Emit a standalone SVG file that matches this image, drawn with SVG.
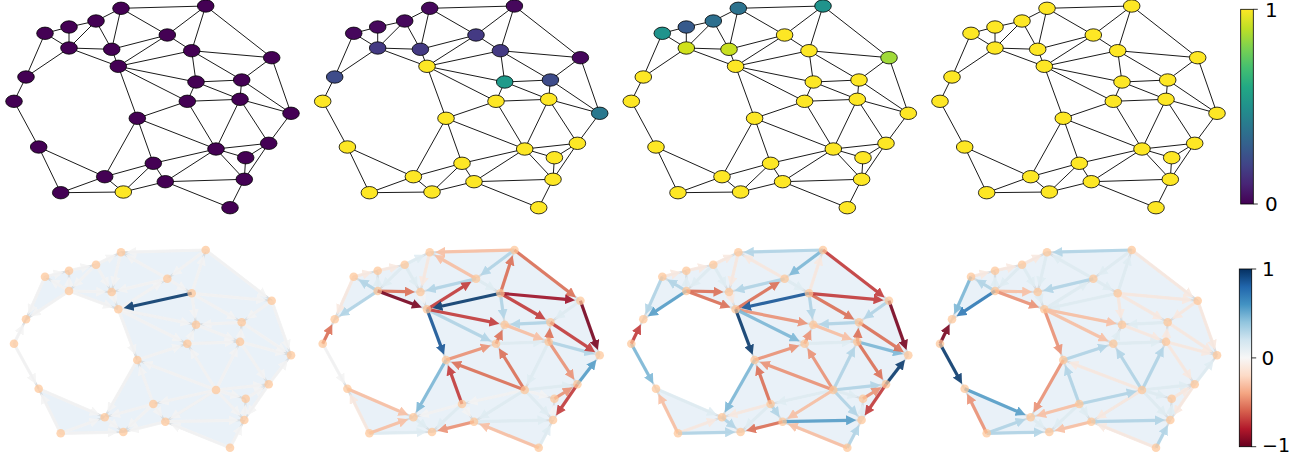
<svg xmlns="http://www.w3.org/2000/svg" xmlns:xlink="http://www.w3.org/1999/xlink" width="1305" height="456" viewBox="0 0 1305 456">
<style>
.te{fill:none;stroke:#000;stroke-width:.9}
.tn ellipse{stroke:#000;stroke-width:.8}
.bf{fill:#e9f1f8}
.be{fill:none;stroke:#d3d8dc;stroke-width:2.2;opacity:.85}
.bn circle{fill:#fdc699;opacity:.72}
.ar use{fill:none;stroke-width:3.2;opacity:.9}
.cb{fill:none;stroke:#000;stroke-width:.8}
text{font-family:"DejaVu Sans","Liberation Sans",sans-serif;font-size:20px;fill:#000}
</style>
<defs>
<linearGradient id="vir" x1="0" y1="1" x2="0" y2="0">
<stop offset="0" stop-color="#440154"/><stop offset=".1" stop-color="#482475"/><stop offset=".2" stop-color="#414487"/><stop offset=".3" stop-color="#355f8d"/><stop offset=".4" stop-color="#2a788e"/><stop offset=".5" stop-color="#21918c"/><stop offset=".6" stop-color="#22a884"/><stop offset=".7" stop-color="#44bf70"/><stop offset=".8" stop-color="#7ad151"/><stop offset=".9" stop-color="#bddf26"/><stop offset="1" stop-color="#fde725"/>
</linearGradient>
<linearGradient id="rdbu" x1="0" y1="1" x2="0" y2="0">
<stop offset="0" stop-color="#67001f"/><stop offset=".1" stop-color="#b2182b"/><stop offset=".2" stop-color="#d6604d"/><stop offset=".3" stop-color="#f4a582"/><stop offset=".4" stop-color="#fddbc7"/><stop offset=".5" stop-color="#f7f7f7"/><stop offset=".6" stop-color="#d1e5f0"/><stop offset=".7" stop-color="#92c5de"/><stop offset=".8" stop-color="#4393c3"/><stop offset=".9" stop-color="#2166ac"/><stop offset="1" stop-color="#053061"/>
</linearGradient>
<marker id="mR5" viewBox="0 -5 10 10" refX="1" refY="0" markerWidth="10" markerHeight="10" markerUnits="userSpaceOnUse" orient="auto"><path d="M0-5L10 0L0 5z" fill="#7a0622"/></marker>
<marker id="mR4" viewBox="0 -5 10 10" refX="1" refY="0" markerWidth="10" markerHeight="10" markerUnits="userSpaceOnUse" orient="auto"><path d="M0-5L10 0L0 5z" fill="#9f1229"/></marker>
<marker id="mR3" viewBox="0 -5 10 10" refX="1" refY="0" markerWidth="10" markerHeight="10" markerUnits="userSpaceOnUse" orient="auto"><path d="M0-5L10 0L0 5z" fill="#c43c3c"/></marker>
<marker id="mR2" viewBox="0 -5 10 10" refX="1" refY="0" markerWidth="10" markerHeight="10" markerUnits="userSpaceOnUse" orient="auto"><path d="M0-5L10 0L0 5z" fill="#dd7158"/></marker>
<marker id="mR1" viewBox="0 -5 10 10" refX="1" refY="0" markerWidth="10" markerHeight="10" markerUnits="userSpaceOnUse" orient="auto"><path d="M0-5L10 0L0 5z" fill="#ec9377"/></marker>
<marker id="mR0" viewBox="0 -5 10 10" refX="1" refY="0" markerWidth="10" markerHeight="10" markerUnits="userSpaceOnUse" orient="auto"><path d="M0-5L10 0L0 5z" fill="#f9c0a4"/></marker>
<marker id="mRz" viewBox="0 -5 10 10" refX="1" refY="0" markerWidth="10" markerHeight="10" markerUnits="userSpaceOnUse" orient="auto"><path d="M0-5L10 0L0 5z" fill="#f9e9e0"/></marker>
<marker id="mZ" viewBox="0 -5 10 10" refX="1" refY="0" markerWidth="10" markerHeight="10" markerUnits="userSpaceOnUse" orient="auto"><path d="M0-5L10 0L0 5z" fill="#f4f4f4"/></marker>
<marker id="mBz" viewBox="0 -5 10 10" refX="1" refY="0" markerWidth="10" markerHeight="10" markerUnits="userSpaceOnUse" orient="auto"><path d="M0-5L10 0L0 5z" fill="#e0edf3"/></marker>
<marker id="mB0" viewBox="0 -5 10 10" refX="1" refY="0" markerWidth="10" markerHeight="10" markerUnits="userSpaceOnUse" orient="auto"><path d="M0-5L10 0L0 5z" fill="#b2d5e7"/></marker>
<marker id="mB1" viewBox="0 -5 10 10" refX="1" refY="0" markerWidth="10" markerHeight="10" markerUnits="userSpaceOnUse" orient="auto"><path d="M0-5L10 0L0 5z" fill="#7eb9d8"/></marker>
<marker id="mB2" viewBox="0 -5 10 10" refX="1" refY="0" markerWidth="10" markerHeight="10" markerUnits="userSpaceOnUse" orient="auto"><path d="M0-5L10 0L0 5z" fill="#579fc9"/></marker>
<marker id="mB3" viewBox="0 -5 10 10" refX="1" refY="0" markerWidth="10" markerHeight="10" markerUnits="userSpaceOnUse" orient="auto"><path d="M0-5L10 0L0 5z" fill="#327cb7"/></marker>
<marker id="mB4" viewBox="0 -5 10 10" refX="1" refY="0" markerWidth="10" markerHeight="10" markerUnits="userSpaceOnUse" orient="auto"><path d="M0-5L10 0L0 5z" fill="#1a5898"/></marker>
<marker id="mB5" viewBox="0 -5 10 10" refX="1" refY="0" markerWidth="10" markerHeight="10" markerUnits="userSpaceOnUse" orient="auto"><path d="M0-5L10 0L0 5z" fill="#0c3d6f"/></marker>
<path id="tE" class="te" d="M121 8.3L205.7 6M121 8.3L96 21M121 8.3L111.7 49.3M121 8.3L167.3 35M205.7 6L167.3 35M205.7 6L191.7 50.7M205.7 6L271.7 57.7M96 21L69 27M96 21L69 48M96 21L111.7 49.3M69 27L45 33.3M69 27L69 48M45 33.3L69 48M45 33.3L26 77M69 48L111.7 49.3M69 48L118.3 66.3M69 48L26 77M111.7 49.3L167.3 35M111.7 49.3L118.3 66.3M167.3 35L191.7 50.7M167.3 35L118.3 66.3M191.7 50.7L271.7 57.7M191.7 50.7L118.3 66.3M191.7 50.7L196 82M191.7 50.7L241.7 80M271.7 57.7L241.7 80M271.7 57.7L291 113.3M118.3 66.3L196 82M118.3 66.3L187.3 101.3M118.3 66.3L137.3 118.3M26 77L14 101.3M196 82L241.7 80M196 82L187.3 101.3M196 82L240 99.3M241.7 80L240 99.3M241.7 80L291 113.3M14 101.3L38.7 147M187.3 101.3L240 99.3M187.3 101.3L137.3 118.3M187.3 101.3L216 149M240 99.3L291 113.3M240 99.3L216 149M240 99.3L268.7 143.3M291 113.3L268.7 143.3M137.3 118.3L216 149M137.3 118.3L153.3 163.3M137.3 118.3L104.7 176.7M38.7 147L104.7 176.7M38.7 147L60.7 192.7M216 149L268.7 143.3M216 149L245.7 157.7M216 149L153.3 163.3M216 149L165.3 181.7M216 149L244.3 179.3M268.7 143.3L245.7 157.7M268.7 143.3L244.3 179.3M245.7 157.7L244.3 179.3M153.3 163.3L104.7 176.7M153.3 163.3L165.3 181.7M153.3 163.3L123.3 192M104.7 176.7L60.7 192.7M104.7 176.7L123.3 192M165.3 181.7L244.3 179.3M165.3 181.7L123.3 192M165.3 181.7L230 207.7M244.3 179.3L230 207.7M60.7 192.7L123.3 192"/>
<g id="bB">
<path class="bf" d="M26 319.3L45 276.7L69 270.7L96 264.7L121 252.3L205.7 250L271.7 300.7L291 355.3L268.7 384.3L244.3 420L230 447.7L165.3 421.7L123.3 432L60.7 433.3L38.7 388.7L104.7 417.3L137.3 360L118.3 309.3L69 291Z"/>
<path class="be" d="M121 252.3L205.7 250M121 252.3L96 264.7M121 252.3L111.7 292M121 252.3L167.3 278.7M205.7 250L167.3 278.7M205.7 250L191.7 293.3M205.7 250L271.7 300.7M96 264.7L69 270.7M96 264.7L69 291M96 264.7L111.7 292M69 270.7L45 276.7M69 270.7L69 291M45 276.7L69 291M45 276.7L26 319.3M69 291L111.7 292M69 291L118.3 309.3M69 291L26 319.3M111.7 292L167.3 278.7M111.7 292L118.3 309.3M167.3 278.7L191.7 293.3M167.3 278.7L118.3 309.3M191.7 293.3L271.7 300.7M191.7 293.3L118.3 309.3M191.7 293.3L196 324.7M191.7 293.3L241.7 322.3M271.7 300.7L241.7 322.3M271.7 300.7L291 355.3M118.3 309.3L196 324.7M118.3 309.3L187.3 343.7M118.3 309.3L137.3 360M26 319.3L14 343.7M196 324.7L241.7 322.3M196 324.7L187.3 343.7M196 324.7L240 341.7M241.7 322.3L240 341.7M241.7 322.3L291 355.3M14 343.7L38.7 388.7M187.3 343.7L240 341.7M187.3 343.7L137.3 360M187.3 343.7L216 390M240 341.7L291 355.3M240 341.7L216 390M240 341.7L268.7 384.3M291 355.3L268.7 384.3M137.3 360L216 390M137.3 360L153.3 404M137.3 360L104.7 417.3M38.7 388.7L104.7 417.3M38.7 388.7L60.7 433.3M216 390L268.7 384.3M216 390L245.7 398.7M216 390L153.3 404M216 390L165.3 421.7M216 390L244.3 420M268.7 384.3L245.7 398.7M268.7 384.3L244.3 420M245.7 398.7L244.3 420M153.3 404L104.7 417.3M153.3 404L165.3 421.7M153.3 404L123.3 432M104.7 417.3L60.7 433.3M104.7 417.3L123.3 432M165.3 421.7L244.3 420M165.3 421.7L123.3 432M165.3 421.7L230 447.7M244.3 420L230 447.7M60.7 433.3L123.3 432"/>
</g>
<path id="e1" d="M205.7 250L135.5 251.9"/>
<path id="e2" d="M96 264.7L108 258.7"/>
<path id="e3" d="M121 252.3L115 277.9"/>
<path id="e4" d="M167.3 278.7L133.6 259.5"/>
<path id="e5" d="M205.7 250L178.9 270"/>
<path id="e6" d="M191.7 293.3L201.2 263.8"/>
<path id="e7" d="M205.7 250L260.2 291.9"/>
<path id="e8" d="M69 270.7L81.9 267.9"/>
<path id="e9" d="M96 264.7L79.4 280.9"/>
<path id="e10" d="M96 264.7L104.5 279.4"/>
<path id="e11" d="M45 276.7L54.9 274.2"/>
<path id="e12" d="M69 291L69 285.2"/>
<path id="e13" d="M69 291L57.5 284.1"/>
<path id="e14" d="M45 276.7L31.9 306.1"/>
<path id="e15" d="M69 291L97.2 291.7"/>
<path id="e16" d="M69 291L104.7 304.3"/>
<path id="e17" d="M69 291L38.1 311.3"/>
<path id="e18" d="M167.3 278.7L125.8 288.6"/>
<path id="e19" d="M111.7 292L113.1 295.8"/>
<path id="e20" d="M167.3 278.7L179.3 285.9"/>
<path id="e21" d="M118.3 309.3L155 286.4"/>
<path id="e22" d="M191.7 293.3L257.3 299.4"/>
<path id="e23" d="M191.7 293.3L132.5 306.2"/>
<path id="e24" d="M191.7 293.3L194 310.3"/>
<path id="e25" d="M191.7 293.3L229.2 315"/>
<path id="e26" d="M271.7 300.7L253.5 313.8"/>
<path id="e27" d="M271.7 300.7L286.2 341.6"/>
<path id="e28" d="M118.3 309.3L181.8 321.9"/>
<path id="e29" d="M118.3 309.3L174.3 337.2"/>
<path id="e30" d="M118.3 309.3L132.2 346.4"/>
<path id="e31" d="M14 343.7L19.6 332.3"/>
<path id="e32" d="M241.7 322.3L210.5 323.9"/>
<path id="e33" d="M187.3 343.7L190 337.9"/>
<path id="e34" d="M196 324.7L226.5 336.5"/>
<path id="e35" d="M240 341.7L240.4 336.8"/>
<path id="e36" d="M241.7 322.3L279 347.2"/>
<path id="e37" d="M14 343.7L31.7 376"/>
<path id="e38" d="M187.3 343.7L225.5 342.3"/>
<path id="e39" d="M137.3 360L173.5 348.2"/>
<path id="e40" d="M216 390L194.9 356"/>
<path id="e41" d="M240 341.7L277 351.6"/>
<path id="e42" d="M216 390L233.6 354.7"/>
<path id="e42f" d="M240 341.7L222.5 377"/>
<path id="e43" d="M240 341.7L260.6 372.3"/>
<path id="e44" d="M268.7 384.3L282.2 366.8"/>
<path id="e45" d="M216 390L150.9 365.2"/>
<path id="e46" d="M153.3 404L142.3 373.6"/>
<path id="e47" d="M137.3 360L111.9 404.7"/>
<path id="e48" d="M38.7 388.7L91.4 411.5"/>
<path id="e49" d="M60.7 433.3L45.1 401.7"/>
<path id="e50" d="M216 390L254.3 385.9"/>
<path id="e51" d="M216 390L231.8 394.6"/>
<path id="e52" d="M216 390L167.5 400.8"/>
<path id="e52r" d="M153.3 404L201.9 393.2"/>
<path id="e53" d="M216 390L177.6 414"/>
<path id="e54" d="M216 390L234.4 409.5"/>
<path id="e55" d="M245.7 398.7L256.4 392"/>
<path id="e56" d="M268.7 384.3L252.5 408"/>
<path id="e57" d="M244.3 420L244.8 413.2"/>
<path id="e58" d="M153.3 404L118.7 413.5"/>
<path id="e59" d="M153.3 404L157.2 409.7"/>
<path id="e60" d="M153.3 404L133.9 422.1"/>
<path id="e61" d="M60.7 433.3L91.1 422.3"/>
<path id="e62" d="M104.7 417.3L111.9 423"/>
<path id="e63" d="M165.3 421.7L229.8 420.3"/>
<path id="e64" d="M165.3 421.7L137.4 428.6"/>
<path id="e65" d="M230 447.7L178.8 427.1"/>
<path id="e66" d="M230 447.7L237.7 432.9"/>
<path id="e67" d="M60.7 433.3L108.8 432.3"/>
</defs>
<rect width="1305" height="456" fill="#fff"/>

<!-- ===== TOP ROW ===== -->
<g id="top1">
<g id="top1-edges"><use href="#tE"/></g>
<g class="tn" fill="#440154">
<g id="t1n0"><ellipse cx="121" cy="8.3" rx="8.3" ry="6.2"/></g>
<g id="t1n1"><ellipse cx="205.7" cy="6" rx="8.3" ry="6.2"/></g>
<g id="t1n2"><ellipse cx="96" cy="21" rx="8.3" ry="6.2"/></g>
<g id="t1n3"><ellipse cx="69" cy="27" rx="8.3" ry="6.2"/></g>
<g id="t1n4"><ellipse cx="45" cy="33.3" rx="8.3" ry="6.2"/></g>
<g id="t1n5"><ellipse cx="69" cy="48" rx="8.3" ry="6.2"/></g>
<g id="t1n6"><ellipse cx="111.7" cy="49.3" rx="8.3" ry="6.2"/></g>
<g id="t1n7"><ellipse cx="167.3" cy="35" rx="8.3" ry="6.2"/></g>
<g id="t1n8"><ellipse cx="191.7" cy="50.7" rx="8.3" ry="6.2"/></g>
<g id="t1n9"><ellipse cx="271.7" cy="57.7" rx="8.3" ry="6.2"/></g>
<g id="t1n10"><ellipse cx="118.3" cy="66.3" rx="8.3" ry="6.2"/></g>
<g id="t1n11"><ellipse cx="26" cy="77" rx="8.3" ry="6.2"/></g>
<g id="t1n12"><ellipse cx="196" cy="82" rx="8.3" ry="6.2"/></g>
<g id="t1n13"><ellipse cx="241.7" cy="80" rx="8.3" ry="6.2"/></g>
<g id="t1n14"><ellipse cx="14" cy="101.3" rx="8.3" ry="6.2"/></g>
<g id="t1n15"><ellipse cx="187.3" cy="101.3" rx="8.3" ry="6.2"/></g>
<g id="t1n16"><ellipse cx="240" cy="99.3" rx="8.3" ry="6.2"/></g>
<g id="t1n17"><ellipse cx="291" cy="113.3" rx="8.3" ry="6.2"/></g>
<g id="t1n18"><ellipse cx="137.3" cy="118.3" rx="8.3" ry="6.2"/></g>
<g id="t1n19"><ellipse cx="38.7" cy="147" rx="8.3" ry="6.2"/></g>
<g id="t1n20"><ellipse cx="216" cy="149" rx="8.3" ry="6.2"/></g>
<g id="t1n21"><ellipse cx="268.7" cy="143.3" rx="8.3" ry="6.2"/></g>
<g id="t1n22"><ellipse cx="245.7" cy="157.7" rx="8.3" ry="6.2"/></g>
<g id="t1n23"><ellipse cx="153.3" cy="163.3" rx="8.3" ry="6.2"/></g>
<g id="t1n24"><ellipse cx="104.7" cy="176.7" rx="8.3" ry="6.2"/></g>
<g id="t1n25"><ellipse cx="165.3" cy="181.7" rx="8.3" ry="6.2"/></g>
<g id="t1n26"><ellipse cx="244.3" cy="179.3" rx="8.3" ry="6.2"/></g>
<g id="t1n27"><ellipse cx="60.7" cy="192.7" rx="8.3" ry="6.2"/></g>
<g id="t1n28"><ellipse cx="123.3" cy="192" rx="8.3" ry="6.2" fill="#fde725"/></g>
<g id="t1n29"><ellipse cx="230" cy="207.7" rx="8.3" ry="6.2"/></g>
</g>
</g>

<g id="top2" transform="translate(308.7,0)">
<g id="top2-edges"><use href="#tE"/></g>
<g class="tn" fill="#fde725">
<g id="t2n0"><ellipse cx="121" cy="8.3" rx="8.3" ry="6.2" fill="#46085c"/></g>
<g id="t2n1"><ellipse cx="205.7" cy="6" rx="8.3" ry="6.2" fill="#46085c"/></g>
<g id="t2n2"><ellipse cx="96" cy="21" rx="8.3" ry="6.2" fill="#46085c"/></g>
<g id="t2n3"><ellipse cx="69" cy="27" rx="8.3" ry="6.2" fill="#46085c"/></g>
<g id="t2n4"><ellipse cx="45" cy="33.3" rx="8.3" ry="6.2" fill="#46085c"/></g>
<g id="t2n5"><ellipse cx="69" cy="48" rx="8.3" ry="6.2" fill="#443a83"/></g>
<g id="t2n6"><ellipse cx="111.7" cy="49.3" rx="8.3" ry="6.2" fill="#443a83"/></g>
<g id="t2n7"><ellipse cx="167.3" cy="35" rx="8.3" ry="6.2" fill="#443a83"/></g>
<g id="t2n8"><ellipse cx="191.7" cy="50.7" rx="8.3" ry="6.2" fill="#443a83"/></g>
<g id="t2n9"><ellipse cx="271.7" cy="57.7" rx="8.3" ry="6.2" fill="#46085c"/></g>
<g id="t2n10"><ellipse cx="118.3" cy="66.3" rx="8.3" ry="6.2"/></g>
<g id="t2n11"><ellipse cx="26" cy="77" rx="8.3" ry="6.2" fill="#3e4c8a"/></g>
<g id="t2n12"><ellipse cx="196" cy="82" rx="8.3" ry="6.2" fill="#1f9a8a"/></g>
<g id="t2n13"><ellipse cx="241.7" cy="80" rx="8.3" ry="6.2" fill="#3e4c8a"/></g>
<g id="t2n14"><ellipse cx="14" cy="101.3" rx="8.3" ry="6.2"/></g>
<g id="t2n15"><ellipse cx="187.3" cy="101.3" rx="8.3" ry="6.2"/></g>
<g id="t2n16"><ellipse cx="240" cy="99.3" rx="8.3" ry="6.2"/></g>
<g id="t2n17"><ellipse cx="291" cy="113.3" rx="8.3" ry="6.2" fill="#2a788e"/></g>
<g id="t2n18"><ellipse cx="137.3" cy="118.3" rx="8.3" ry="6.2"/></g>
<g id="t2n19"><ellipse cx="38.7" cy="147" rx="8.3" ry="6.2"/></g>
<g id="t2n20"><ellipse cx="216" cy="149" rx="8.3" ry="6.2"/></g>
<g id="t2n21"><ellipse cx="268.7" cy="143.3" rx="8.3" ry="6.2"/></g>
<g id="t2n22"><ellipse cx="245.7" cy="157.7" rx="8.3" ry="6.2"/></g>
<g id="t2n23"><ellipse cx="153.3" cy="163.3" rx="8.3" ry="6.2"/></g>
<g id="t2n24"><ellipse cx="104.7" cy="176.7" rx="8.3" ry="6.2"/></g>
<g id="t2n25"><ellipse cx="165.3" cy="181.7" rx="8.3" ry="6.2"/></g>
<g id="t2n26"><ellipse cx="244.3" cy="179.3" rx="8.3" ry="6.2"/></g>
<g id="t2n27"><ellipse cx="60.7" cy="192.7" rx="8.3" ry="6.2"/></g>
<g id="t2n28"><ellipse cx="123.3" cy="192" rx="8.3" ry="6.2"/></g>
<g id="t2n29"><ellipse cx="230" cy="207.7" rx="8.3" ry="6.2"/></g>
</g>
</g>

<g id="top3" transform="translate(617.3,0)">
<g id="top3-edges"><use href="#tE"/></g>
<g class="tn" fill="#fde725">
<g id="t3n0"><ellipse cx="121" cy="8.3" rx="8.3" ry="6.2" fill="#2c728e"/></g>
<g id="t3n1"><ellipse cx="205.7" cy="6" rx="8.3" ry="6.2" fill="#20938c"/></g>
<g id="t3n2"><ellipse cx="96" cy="21" rx="8.3" ry="6.2" fill="#2d6f8e"/></g>
<g id="t3n3"><ellipse cx="69" cy="27" rx="8.3" ry="6.2" fill="#375a8c"/></g>
<g id="t3n4"><ellipse cx="45" cy="33.3" rx="8.3" ry="6.2" fill="#20938c"/></g>
<g id="t3n5"><ellipse cx="69" cy="48" rx="8.3" ry="6.2" fill="#d0e11c"/></g>
<g id="t3n6"><ellipse cx="111.7" cy="49.3" rx="8.3" ry="6.2" fill="#c8e020"/></g>
<g id="t3n7"><ellipse cx="167.3" cy="35" rx="8.3" ry="6.2"/></g>
<g id="t3n8"><ellipse cx="191.7" cy="50.7" rx="8.3" ry="6.2"/></g>
<g id="t3n9"><ellipse cx="271.7" cy="57.7" rx="8.3" ry="6.2" fill="#a0da39"/></g>
<g id="t3n10"><ellipse cx="118.3" cy="66.3" rx="8.3" ry="6.2"/></g>
<g id="t3n11"><ellipse cx="26" cy="77" rx="8.3" ry="6.2"/></g>
<g id="t3n12"><ellipse cx="196" cy="82" rx="8.3" ry="6.2"/></g>
<g id="t3n13"><ellipse cx="241.7" cy="80" rx="8.3" ry="6.2"/></g>
<g id="t3n14"><ellipse cx="14" cy="101.3" rx="8.3" ry="6.2"/></g>
<g id="t3n15"><ellipse cx="187.3" cy="101.3" rx="8.3" ry="6.2"/></g>
<g id="t3n16"><ellipse cx="240" cy="99.3" rx="8.3" ry="6.2"/></g>
<g id="t3n17"><ellipse cx="291" cy="113.3" rx="8.3" ry="6.2"/></g>
<g id="t3n18"><ellipse cx="137.3" cy="118.3" rx="8.3" ry="6.2"/></g>
<g id="t3n19"><ellipse cx="38.7" cy="147" rx="8.3" ry="6.2"/></g>
<g id="t3n20"><ellipse cx="216" cy="149" rx="8.3" ry="6.2"/></g>
<g id="t3n21"><ellipse cx="268.7" cy="143.3" rx="8.3" ry="6.2"/></g>
<g id="t3n22"><ellipse cx="245.7" cy="157.7" rx="8.3" ry="6.2"/></g>
<g id="t3n23"><ellipse cx="153.3" cy="163.3" rx="8.3" ry="6.2"/></g>
<g id="t3n24"><ellipse cx="104.7" cy="176.7" rx="8.3" ry="6.2"/></g>
<g id="t3n25"><ellipse cx="165.3" cy="181.7" rx="8.3" ry="6.2"/></g>
<g id="t3n26"><ellipse cx="244.3" cy="179.3" rx="8.3" ry="6.2"/></g>
<g id="t3n27"><ellipse cx="60.7" cy="192.7" rx="8.3" ry="6.2"/></g>
<g id="t3n28"><ellipse cx="123.3" cy="192" rx="8.3" ry="6.2"/></g>
<g id="t3n29"><ellipse cx="230" cy="207.7" rx="8.3" ry="6.2"/></g>
</g>
</g>

<g id="top4" transform="translate(926,0)">
<g id="top4-edges"><use href="#tE"/></g>
<g class="tn" fill="#fde725">
<g id="t4n0"><ellipse cx="121" cy="8.3" rx="8.3" ry="6.2"/></g>
<g id="t4n1"><ellipse cx="205.7" cy="6" rx="8.3" ry="6.2"/></g>
<g id="t4n2"><ellipse cx="96" cy="21" rx="8.3" ry="6.2"/></g>
<g id="t4n3"><ellipse cx="69" cy="27" rx="8.3" ry="6.2"/></g>
<g id="t4n4"><ellipse cx="45" cy="33.3" rx="8.3" ry="6.2"/></g>
<g id="t4n5"><ellipse cx="69" cy="48" rx="8.3" ry="6.2"/></g>
<g id="t4n6"><ellipse cx="111.7" cy="49.3" rx="8.3" ry="6.2"/></g>
<g id="t4n7"><ellipse cx="167.3" cy="35" rx="8.3" ry="6.2"/></g>
<g id="t4n8"><ellipse cx="191.7" cy="50.7" rx="8.3" ry="6.2"/></g>
<g id="t4n9"><ellipse cx="271.7" cy="57.7" rx="8.3" ry="6.2"/></g>
<g id="t4n10"><ellipse cx="118.3" cy="66.3" rx="8.3" ry="6.2"/></g>
<g id="t4n11"><ellipse cx="26" cy="77" rx="8.3" ry="6.2"/></g>
<g id="t4n12"><ellipse cx="196" cy="82" rx="8.3" ry="6.2"/></g>
<g id="t4n13"><ellipse cx="241.7" cy="80" rx="8.3" ry="6.2"/></g>
<g id="t4n14"><ellipse cx="14" cy="101.3" rx="8.3" ry="6.2"/></g>
<g id="t4n15"><ellipse cx="187.3" cy="101.3" rx="8.3" ry="6.2"/></g>
<g id="t4n16"><ellipse cx="240" cy="99.3" rx="8.3" ry="6.2"/></g>
<g id="t4n17"><ellipse cx="291" cy="113.3" rx="8.3" ry="6.2"/></g>
<g id="t4n18"><ellipse cx="137.3" cy="118.3" rx="8.3" ry="6.2"/></g>
<g id="t4n19"><ellipse cx="38.7" cy="147" rx="8.3" ry="6.2"/></g>
<g id="t4n20"><ellipse cx="216" cy="149" rx="8.3" ry="6.2"/></g>
<g id="t4n21"><ellipse cx="268.7" cy="143.3" rx="8.3" ry="6.2"/></g>
<g id="t4n22"><ellipse cx="245.7" cy="157.7" rx="8.3" ry="6.2"/></g>
<g id="t4n23"><ellipse cx="153.3" cy="163.3" rx="8.3" ry="6.2"/></g>
<g id="t4n24"><ellipse cx="104.7" cy="176.7" rx="8.3" ry="6.2"/></g>
<g id="t4n25"><ellipse cx="165.3" cy="181.7" rx="8.3" ry="6.2"/></g>
<g id="t4n26"><ellipse cx="244.3" cy="179.3" rx="8.3" ry="6.2"/></g>
<g id="t4n27"><ellipse cx="60.7" cy="192.7" rx="8.3" ry="6.2"/></g>
<g id="t4n28"><ellipse cx="123.3" cy="192" rx="8.3" ry="6.2"/></g>
<g id="t4n29"><ellipse cx="230" cy="207.7" rx="8.3" ry="6.2"/></g>
</g>
</g>

<!-- ===== BOTTOM ROW ===== -->
<g id="bot1">
<use href="#bB"/>
<g id="bot1-arrows" class="ar">
<g stroke="#f4f4f4" marker-end="url(#mZ)"><use href="#e1"/><use href="#e2"/><use href="#e3"/><use href="#e4"/><use href="#e5"/><use href="#e6"/><use href="#e7"/><use href="#e8"/><use href="#e9"/><use href="#e10"/><use href="#e11"/><use href="#e12"/><use href="#e13"/><use href="#e14"/><use href="#e15"/><use href="#e16"/><use href="#e17"/><use href="#e18"/><use href="#e19"/><use href="#e20"/><use href="#e21"/><use href="#e22"/><use href="#e24"/><use href="#e25"/><use href="#e26"/><use href="#e27"/><use href="#e28"/><use href="#e29"/><use href="#e30"/><use href="#e31"/><use href="#e32"/><use href="#e33"/><use href="#e34"/><use href="#e35"/><use href="#e36"/><use href="#e37"/><use href="#e38"/><use href="#e39"/><use href="#e40"/><use href="#e41"/><use href="#e42"/><use href="#e43"/><use href="#e44"/><use href="#e45"/><use href="#e46"/><use href="#e47"/><use href="#e48"/><use href="#e49"/><use href="#e50"/><use href="#e51"/><use href="#e52"/><use href="#e53"/><use href="#e54"/><use href="#e55"/><use href="#e56"/><use href="#e57"/><use href="#e58"/><use href="#e59"/><use href="#e60"/><use href="#e61"/><use href="#e62"/><use href="#e63"/><use href="#e64"/><use href="#e65"/><use href="#e66"/><use href="#e67"/></g>
<g stroke="#0c3d6f" marker-end="url(#mB5)"><use href="#e23"/></g>
</g>
<g id="bot1-nodes" class="bn">
<g id="b1n0"><circle cx="121" cy="252.3" r="4.3"/></g><g id="b1n1"><circle cx="205.7" cy="250" r="4.3"/></g><g id="b1n2"><circle cx="96" cy="264.7" r="4.3"/></g><g id="b1n3"><circle cx="69" cy="270.7" r="4.3"/></g><g id="b1n4"><circle cx="45" cy="276.7" r="4.3"/></g><g id="b1n5"><circle cx="69" cy="291" r="4.3"/></g><g id="b1n6"><circle cx="111.7" cy="292" r="4.3"/></g><g id="b1n7"><circle cx="167.3" cy="278.7" r="4.3"/></g><g id="b1n8"><circle cx="191.7" cy="293.3" r="4.3"/></g><g id="b1n9"><circle cx="271.7" cy="300.7" r="4.3"/></g><g id="b1n10"><circle cx="118.3" cy="309.3" r="4.3"/></g><g id="b1n11"><circle cx="26" cy="319.3" r="4.3"/></g><g id="b1n12"><circle cx="196" cy="324.7" r="4.3"/></g><g id="b1n13"><circle cx="241.7" cy="322.3" r="4.3"/></g><g id="b1n14"><circle cx="14" cy="343.7" r="4.3"/></g><g id="b1n15"><circle cx="187.3" cy="343.7" r="4.3"/></g><g id="b1n16"><circle cx="240" cy="341.7" r="4.3"/></g><g id="b1n17"><circle cx="291" cy="355.3" r="4.3"/></g><g id="b1n18"><circle cx="137.3" cy="360" r="4.3"/></g><g id="b1n19"><circle cx="38.7" cy="388.7" r="4.3"/></g><g id="b1n20"><circle cx="216" cy="390" r="4.3"/></g><g id="b1n21"><circle cx="268.7" cy="384.3" r="4.3"/></g><g id="b1n22"><circle cx="245.7" cy="398.7" r="4.3"/></g><g id="b1n23"><circle cx="153.3" cy="404" r="4.3"/></g><g id="b1n24"><circle cx="104.7" cy="417.3" r="4.3"/></g><g id="b1n25"><circle cx="165.3" cy="421.7" r="4.3"/></g><g id="b1n26"><circle cx="244.3" cy="420" r="4.3"/></g><g id="b1n27"><circle cx="60.7" cy="433.3" r="4.3"/></g><g id="b1n28"><circle cx="123.3" cy="432" r="4.3"/></g><g id="b1n29"><circle cx="230" cy="447.7" r="4.3"/></g>
</g>
</g>

<g id="bot2" transform="translate(308.7,0)">
<use href="#bB"/>
<g id="bot2-arrows" class="ar">
<g stroke="#f4f4f4" marker-end="url(#mZ)"><use href="#e19"/><use href="#e37"/><use href="#e51"/><use href="#e52"/><use href="#e57"/><use href="#e58"/><use href="#e59"/></g>
<g stroke="#f9e9e0" marker-end="url(#mRz)"><use href="#e3"/><use href="#e8"/><use href="#e11"/><use href="#e14"/><use href="#e49"/></g>
<g stroke="#e0edf3" marker-end="url(#mBz)"><use href="#e2"/><use href="#e9"/><use href="#e10"/><use href="#e12"/><use href="#e20"/><use href="#e26"/><use href="#e38"/><use href="#e42f"/><use href="#e50"/><use href="#e53"/><use href="#e54"/><use href="#e60"/><use href="#e62"/><use href="#e63"/><use href="#e66"/><use href="#e67"/></g>
<g stroke="#f9c0a4" marker-end="url(#mR0)"><use href="#e1"/><use href="#e4"/><use href="#e34"/><use href="#e48"/><use href="#e61"/><use href="#e65"/></g>
<g stroke="#b2d5e7" marker-end="url(#mB0)"><use href="#e5"/><use href="#e13"/><use href="#e17"/><use href="#e18"/><use href="#e24"/><use href="#e29"/><use href="#e32"/><use href="#e41"/></g>
<g stroke="#ec9377" marker-end="url(#mR1)"><use href="#e39"/><use href="#e43"/><use href="#e55"/><use href="#e64"/></g>
<g stroke="#7eb9d8" marker-end="url(#mB1)"><use href="#e47"/></g>
<g stroke="#dd7158" marker-end="url(#mR2)"><use href="#e6"/><use href="#e7"/><use href="#e15"/><use href="#e31"/><use href="#e33"/><use href="#e35"/><use href="#e40"/><use href="#e45"/></g>
<g stroke="#579fc9" marker-end="url(#mB2)"><use href="#e44"/></g>
<g stroke="#c43c3c" marker-end="url(#mR3)"><use href="#e21"/><use href="#e25"/><use href="#e28"/><use href="#e36"/><use href="#e46"/><use href="#e56"/></g>
<g stroke="#9f1229" marker-end="url(#mR4)"><use href="#e22"/></g>
<g stroke="#1a5898" marker-end="url(#mB4)"><use href="#e30"/></g>
<g stroke="#7a0622" marker-end="url(#mR5)"><use href="#e16"/><use href="#e27"/></g>
<g stroke="#0c3d6f" marker-end="url(#mB5)"><use href="#e23"/></g>
</g>
<g id="bot2-nodes" class="bn">
<g id="b2n0"><circle cx="121" cy="252.3" r="4.3"/></g><g id="b2n1"><circle cx="205.7" cy="250" r="4.3"/></g><g id="b2n2"><circle cx="96" cy="264.7" r="4.3"/></g><g id="b2n3"><circle cx="69" cy="270.7" r="4.3"/></g><g id="b2n4"><circle cx="45" cy="276.7" r="4.3"/></g><g id="b2n5"><circle cx="69" cy="291" r="4.3"/></g><g id="b2n6"><circle cx="111.7" cy="292" r="4.3"/></g><g id="b2n7"><circle cx="167.3" cy="278.7" r="4.3"/></g><g id="b2n8"><circle cx="191.7" cy="293.3" r="4.3"/></g><g id="b2n9"><circle cx="271.7" cy="300.7" r="4.3"/></g><g id="b2n10"><circle cx="118.3" cy="309.3" r="4.3"/></g><g id="b2n11"><circle cx="26" cy="319.3" r="4.3"/></g><g id="b2n12"><circle cx="196" cy="324.7" r="4.3"/></g><g id="b2n13"><circle cx="241.7" cy="322.3" r="4.3"/></g><g id="b2n14"><circle cx="14" cy="343.7" r="4.3"/></g><g id="b2n15"><circle cx="187.3" cy="343.7" r="4.3"/></g><g id="b2n16"><circle cx="240" cy="341.7" r="4.3"/></g><g id="b2n17"><circle cx="291" cy="355.3" r="4.3"/></g><g id="b2n18"><circle cx="137.3" cy="360" r="4.3"/></g><g id="b2n19"><circle cx="38.7" cy="388.7" r="4.3"/></g><g id="b2n20"><circle cx="216" cy="390" r="4.3"/></g><g id="b2n21"><circle cx="268.7" cy="384.3" r="4.3"/></g><g id="b2n22"><circle cx="245.7" cy="398.7" r="4.3"/></g><g id="b2n23"><circle cx="153.3" cy="404" r="4.3"/></g><g id="b2n24"><circle cx="104.7" cy="417.3" r="4.3"/></g><g id="b2n25"><circle cx="165.3" cy="421.7" r="4.3"/></g><g id="b2n26"><circle cx="244.3" cy="420" r="4.3"/></g><g id="b2n27"><circle cx="60.7" cy="433.3" r="4.3"/></g><g id="b2n28"><circle cx="123.3" cy="432" r="4.3"/></g><g id="b2n29"><circle cx="230" cy="447.7" r="4.3"/></g>
</g>
</g>

<g id="bot3" transform="translate(617.3,0)">
<use href="#bB"/>
<g id="bot3-arrows" class="ar">
<g stroke="#f9e9e0" marker-end="url(#mRz)"><use href="#e2"/><use href="#e3"/><use href="#e4"/><use href="#e6"/><use href="#e8"/><use href="#e11"/><use href="#e19"/><use href="#e58"/><use href="#e61"/></g>
<g stroke="#e0edf3" marker-end="url(#mBz)"><use href="#e9"/><use href="#e10"/><use href="#e12"/><use href="#e20"/><use href="#e38"/><use href="#e48"/><use href="#e51"/><use href="#e52"/><use href="#e57"/><use href="#e60"/></g>
<g stroke="#f9c0a4" marker-end="url(#mR0)"><use href="#e34"/><use href="#e49"/><use href="#e53"/><use href="#e65"/></g>
<g stroke="#b2d5e7" marker-end="url(#mB0)"><use href="#e1"/><use href="#e13"/><use href="#e14"/><use href="#e18"/><use href="#e24"/><use href="#e26"/><use href="#e32"/><use href="#e42"/><use href="#e50"/><use href="#e54"/><use href="#e59"/><use href="#e62"/><use href="#e66"/><use href="#e67"/></g>
<g stroke="#ec9377" marker-end="url(#mR1)"><use href="#e28"/><use href="#e33"/><use href="#e39"/><use href="#e40"/><use href="#e45"/><use href="#e55"/></g>
<g stroke="#7eb9d8" marker-end="url(#mB1)"><use href="#e5"/><use href="#e29"/><use href="#e37"/><use href="#e41"/><use href="#e47"/></g>
<g stroke="#dd7158" marker-end="url(#mR2)"><use href="#e15"/><use href="#e16"/><use href="#e21"/><use href="#e25"/><use href="#e35"/><use href="#e36"/><use href="#e43"/><use href="#e46"/><use href="#e64"/></g>
<g stroke="#579fc9" marker-end="url(#mB2)"><use href="#e17"/><use href="#e63"/></g>
<g stroke="#c43c3c" marker-end="url(#mR3)"><use href="#e7"/><use href="#e22"/><use href="#e31"/><use href="#e56"/></g>
<g stroke="#1a5898" marker-end="url(#mB4)"><use href="#e23"/></g>
<g stroke="#7a0622" marker-end="url(#mR5)"><use href="#e27"/></g>
<g stroke="#0c3d6f" marker-end="url(#mB5)"><use href="#e30"/><use href="#e44"/></g>
</g>
<g id="bot3-nodes" class="bn">
<g id="b3n0"><circle cx="121" cy="252.3" r="4.3"/></g><g id="b3n1"><circle cx="205.7" cy="250" r="4.3"/></g><g id="b3n2"><circle cx="96" cy="264.7" r="4.3"/></g><g id="b3n3"><circle cx="69" cy="270.7" r="4.3"/></g><g id="b3n4"><circle cx="45" cy="276.7" r="4.3"/></g><g id="b3n5"><circle cx="69" cy="291" r="4.3"/></g><g id="b3n6"><circle cx="111.7" cy="292" r="4.3"/></g><g id="b3n7"><circle cx="167.3" cy="278.7" r="4.3"/></g><g id="b3n8"><circle cx="191.7" cy="293.3" r="4.3"/></g><g id="b3n9"><circle cx="271.7" cy="300.7" r="4.3"/></g><g id="b3n10"><circle cx="118.3" cy="309.3" r="4.3"/></g><g id="b3n11"><circle cx="26" cy="319.3" r="4.3"/></g><g id="b3n12"><circle cx="196" cy="324.7" r="4.3"/></g><g id="b3n13"><circle cx="241.7" cy="322.3" r="4.3"/></g><g id="b3n14"><circle cx="14" cy="343.7" r="4.3"/></g><g id="b3n15"><circle cx="187.3" cy="343.7" r="4.3"/></g><g id="b3n16"><circle cx="240" cy="341.7" r="4.3"/></g><g id="b3n17"><circle cx="291" cy="355.3" r="4.3"/></g><g id="b3n18"><circle cx="137.3" cy="360" r="4.3"/></g><g id="b3n19"><circle cx="38.7" cy="388.7" r="4.3"/></g><g id="b3n20"><circle cx="216" cy="390" r="4.3"/></g><g id="b3n21"><circle cx="268.7" cy="384.3" r="4.3"/></g><g id="b3n22"><circle cx="245.7" cy="398.7" r="4.3"/></g><g id="b3n23"><circle cx="153.3" cy="404" r="4.3"/></g><g id="b3n24"><circle cx="104.7" cy="417.3" r="4.3"/></g><g id="b3n25"><circle cx="165.3" cy="421.7" r="4.3"/></g><g id="b3n26"><circle cx="244.3" cy="420" r="4.3"/></g><g id="b3n27"><circle cx="60.7" cy="433.3" r="4.3"/></g><g id="b3n28"><circle cx="123.3" cy="432" r="4.3"/></g><g id="b3n29"><circle cx="230" cy="447.7" r="4.3"/></g>
</g>
</g>

<g id="bot4" transform="translate(926,0)">
<use href="#bB"/>
<g id="bot4-arrows" class="ar">
<g stroke="#f9e9e0" marker-end="url(#mRz)"><use href="#e2"/><use href="#e7"/><use href="#e8"/><use href="#e11"/><use href="#e22"/><use href="#e24"/><use href="#e25"/><use href="#e26"/><use href="#e27"/><use href="#e34"/><use href="#e35"/><use href="#e36"/><use href="#e41"/><use href="#e43"/><use href="#e45"/><use href="#e53"/><use href="#e55"/><use href="#e56"/><use href="#e65"/></g>
<g stroke="#e0edf3" marker-end="url(#mBz)"><use href="#e3"/><use href="#e4"/><use href="#e5"/><use href="#e6"/><use href="#e9"/><use href="#e10"/><use href="#e12"/><use href="#e19"/><use href="#e20"/><use href="#e21"/><use href="#e23"/><use href="#e32"/><use href="#e33"/><use href="#e38"/><use href="#e44"/><use href="#e50"/><use href="#e51"/><use href="#e54"/><use href="#e57"/><use href="#e59"/><use href="#e60"/><use href="#e62"/></g>
<g stroke="#f9c0a4" marker-end="url(#mR0)"><use href="#e15"/><use href="#e28"/><use href="#e29"/><use href="#e58"/><use href="#e64"/></g>
<g stroke="#b2d5e7" marker-end="url(#mB0)"><use href="#e1"/><use href="#e13"/><use href="#e18"/><use href="#e39"/><use href="#e40"/><use href="#e42"/><use href="#e46"/><use href="#e52r"/><use href="#e61"/><use href="#e63"/><use href="#e66"/><use href="#e67"/></g>
<g stroke="#ec9377" marker-end="url(#mR1)"><use href="#e16"/><use href="#e30"/><use href="#e47"/><use href="#e49"/></g>
<g stroke="#7eb9d8" marker-end="url(#mB1)"><use href="#e14"/></g>
<g stroke="#579fc9" marker-end="url(#mB2)"><use href="#e48"/></g>
<g stroke="#327cb7" marker-end="url(#mB3)"><use href="#e17"/></g>
<g stroke="#7a0622" marker-end="url(#mR5)"><use href="#e31"/></g>
<g stroke="#0c3d6f" marker-end="url(#mB5)"><use href="#e37"/></g>
</g>
<g id="bot4-nodes" class="bn">
<g id="b4n0"><circle cx="121" cy="252.3" r="4.3"/></g><g id="b4n1"><circle cx="205.7" cy="250" r="4.3"/></g><g id="b4n2"><circle cx="96" cy="264.7" r="4.3"/></g><g id="b4n3"><circle cx="69" cy="270.7" r="4.3"/></g><g id="b4n4"><circle cx="45" cy="276.7" r="4.3"/></g><g id="b4n5"><circle cx="69" cy="291" r="4.3"/></g><g id="b4n6"><circle cx="111.7" cy="292" r="4.3"/></g><g id="b4n7"><circle cx="167.3" cy="278.7" r="4.3"/></g><g id="b4n8"><circle cx="191.7" cy="293.3" r="4.3"/></g><g id="b4n9"><circle cx="271.7" cy="300.7" r="4.3"/></g><g id="b4n10"><circle cx="118.3" cy="309.3" r="4.3"/></g><g id="b4n11"><circle cx="26" cy="319.3" r="4.3"/></g><g id="b4n12"><circle cx="196" cy="324.7" r="4.3"/></g><g id="b4n13"><circle cx="241.7" cy="322.3" r="4.3"/></g><g id="b4n14"><circle cx="14" cy="343.7" r="4.3"/></g><g id="b4n15"><circle cx="187.3" cy="343.7" r="4.3"/></g><g id="b4n16"><circle cx="240" cy="341.7" r="4.3"/></g><g id="b4n17"><circle cx="291" cy="355.3" r="4.3"/></g><g id="b4n18"><circle cx="137.3" cy="360" r="4.3"/></g><g id="b4n19"><circle cx="38.7" cy="388.7" r="4.3"/></g><g id="b4n20"><circle cx="216" cy="390" r="4.3"/></g><g id="b4n21"><circle cx="268.7" cy="384.3" r="4.3"/></g><g id="b4n22"><circle cx="245.7" cy="398.7" r="4.3"/></g><g id="b4n23"><circle cx="153.3" cy="404" r="4.3"/></g><g id="b4n24"><circle cx="104.7" cy="417.3" r="4.3"/></g><g id="b4n25"><circle cx="165.3" cy="421.7" r="4.3"/></g><g id="b4n26"><circle cx="244.3" cy="420" r="4.3"/></g><g id="b4n27"><circle cx="60.7" cy="433.3" r="4.3"/></g><g id="b4n28"><circle cx="123.3" cy="432" r="4.3"/></g><g id="b4n29"><circle cx="230" cy="447.7" r="4.3"/></g>
</g>
</g>

<!-- ===== COLORBARS ===== -->
<g id="cbar-top">
<rect x="1240.7" y="9.3" width="12.6" height="194.7" fill="url(#vir)"/>
<rect class="cb" x="1240.7" y="9.3" width="12.6" height="194.7"/>
<path class="cb" d="M1253.3 9.3h4.5M1253.3 204h4.5"/>
<text x="1265" y="16.6">1</text>
<text x="1265" y="211.3">0</text>
</g>
<g id="cbar-bottom">
<rect x="1239.3" y="269" width="12.4" height="177.7" fill="url(#rdbu)"/>
<rect class="cb" x="1239.3" y="269" width="12.4" height="177.7"/>
<path class="cb" d="M1251.7 269h4.5M1251.7 357.9h4.5M1251.7 446.7h4.5"/>
<text x="1262" y="276.3">1</text>
<text x="1261.5" y="365.2">0</text>
<text x="1262" y="451.5" style="font-size:19px">−1</text>
</g>
</svg>
